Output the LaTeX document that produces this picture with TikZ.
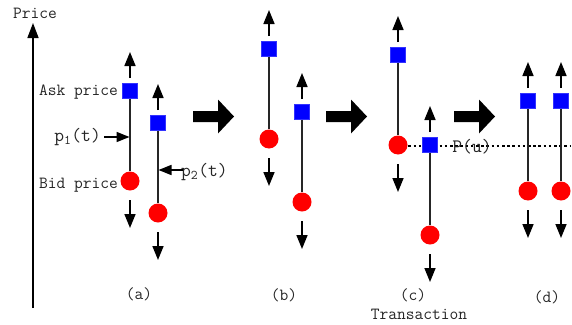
\documentclass[tikz,border=0pt]{standalone}
\usetikzlibrary{arrows.meta}
\begin{document}
\begin{tikzpicture}[x=1pt,y=-1pt,
  lbl/.style={font=\ttfamily\fontsize{17}{18}\selectfont, inner sep=0pt, text=black!85},
  biglbl/.style={font=\ttfamily\fontsize{19}{19}\selectfont, inner sep=0pt, text=black!85},
  askbox/.style={rectangle, fill=blue, draw=blue!80!white, line width=0.4pt, minimum size=15pt, inner sep=0pt},
  bidbox/.style={circle, fill=red, minimum size=19pt, inner sep=0pt},
  colline/.style={line width=1.3pt, black!85},
  smallarrow/.style={line width=1.6pt, -{Triangle[length=14pt,width=11pt]}},
  bigarrow/.style={fill=black, draw=none},
  axisline/.style={line width=1.6pt, -{Triangle[length=15pt,width=11pt]}},
  dotline/.style={dash pattern=on 2.6pt off 2.6pt, line width=1.7pt, black}]
\useasboundingbox (0,0) rectangle (572,324);
\fill[white] (0,0) rectangle (572,324);

% price axis
\coordinate (axb) at (33,308);
\coordinate (axt) at (33,23);
\draw[axisline] (axb) -- (axt);
\node[lbl, anchor=base] (price) at (35,18.5) {Price};

% columns: name, x, square y
\newcommand\pricecol[3]{%
  \node[askbox] (#1s) at (#2,#3) {};
  \node[bidbox] (#1c) at (#2,#3+90) {};
  \coordinate (#1ut) at (#2,#3-13);
  \coordinate (#1uh) at (#2,#3-39);
  \coordinate (#1dt) at (#2,#3+109);
  \coordinate (#1dh) at (#2,#3+137);
  \draw[colline] (#1s) -- (#1c);
  \draw[smallarrow] (#1ut) -- (#1uh);
  \draw[smallarrow] (#1dt) -- (#1dh);
}

% dotted transaction line (drawn under nodes)
\coordinate (dstart) at (398,146);
\coordinate (dend) at (570,146);
\draw[dotline] (dstart) -- (dend);

\pricecol{a1}{130}{91}
\pricecol{a2}{158}{123}
\pricecol{b1}{269}{49}
\pricecol{b2}{302}{112}
\pricecol{c1}{398}{55}
\pricecol{c2}{430}{145}
\pricecol{d1}{528}{101}
\pricecol{d2}{561}{101}

% labels (a)
\node[lbl, anchor=east] (ask) at (118,92) {Ask price};
\node[lbl, anchor=east] (bid) at (118,185) {Bid price};
\node[biglbl, anchor=east] (p1) at (101,137) {p\textsubscript{1}(t)};
\coordinate (p1t) at (104,137);
\coordinate (p1h) at (129.5,137);
\draw[line width=1.6pt, -{Triangle[length=13pt,width=10pt]}] (p1t) -- (p1h);
\node[biglbl, anchor=west] (p2) at (181,172) {p\textsubscript{2}(t)};
\coordinate (p2t) at (183,170);
\coordinate (p2h) at (158.5,170);
\draw[line width=1.6pt, -{Triangle[length=13pt,width=10pt]}] (p2t) -- (p2h);

\node[biglbl] (pu) at (472,147) {P(u)};

% big arrows
\foreach \bx in {193,326,454}{
  \fill[bigarrow] (\bx,111) -- (\bx+25,111) -- (\bx+25,99.5) -- (\bx+41,116.5)
     -- (\bx+25,133.5) -- (\bx+25,122) -- (\bx,122) -- cycle;
}

% captions
\node[lbl] (capa) at (139,294) {(a)};
\node[lbl] (capb) at (284,295) {(b)};
\node[lbl] (capc) at (413,295) {(c)};
\node[lbl] (capd) at (547,297) {(d)};
\node[lbl, anchor=base] (trans) at (419,319) {Transaction};
\end{tikzpicture}
\end{document}
